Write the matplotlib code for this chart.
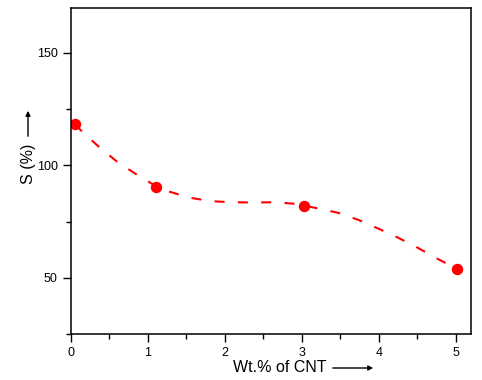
import numpy as np
import matplotlib.pyplot as plt
from matplotlib.ticker import MultipleLocator

plt.rcParams['font.family'] = ['Liberation Sans', 'DejaVu Sans']

# measured points
wt = [0.05, 1.11, 3.02, 5.01]
s_val = [118.3, 90.6, 82.1, 54.0]

# smooth dashed guide line
curve_x = [0.05, 0.17, 0.385, 0.60, 0.84, 1.11, 1.26, 1.53, 1.81, 2.09, 2.38,
           2.65, 2.91, 3.02, 3.19, 3.47, 3.73, 3.99, 4.25, 4.49, 4.74, 5.01]
curve_y = [118.3, 114.1, 107.6, 101.6, 96.2, 90.6, 88.5, 85.7, 84.1, 83.6, 83.5,
           83.6, 82.9, 82.1, 81.0, 78.9, 75.8, 71.9, 67.8, 63.6, 58.8, 54.0]

W, H = 482, 380
fig = plt.figure(figsize=(W / 100, H / 100), dpi=100)
ax = fig.add_axes([71 / W, 1 - 334 / H, 400 / W, 326 / H])

ln, = ax.plot(curve_x, curve_y, color='red', lw=1.5, ls='--')
ln.set_dashes((4.8, 6.4))
ax.plot(wt, s_val, 'o', color='red', ms=7.2, mec='red')

ax.set_xlim(0, 5.195)
ax.set_ylim(25, 170)
ax.xaxis.set_major_locator(MultipleLocator(1))
ax.xaxis.set_minor_locator(MultipleLocator(0.5))
ax.yaxis.set_major_locator(MultipleLocator(50))
ax.yaxis.set_minor_locator(MultipleLocator(25))
ax.tick_params(which='both', direction='out', labelsize=9, width=1)
ax.tick_params(which='major', length=6)
ax.tick_params(which='minor', length=3.5)
ax.tick_params(axis='x', pad=3)
for sp in ax.spines.values():
    sp.set_linewidth(1.1)

def fx(px):
    return px / W

def fy(py):
    return 1 - py / H

# axis labels with arrows
fig.text(fx(280), fy(368), 'Wt.% of CNT', fontsize=11.5, ha='center', va='center')
ax.annotate('', xy=(fx(376), fy(368)), xytext=(fx(330), fy(368)),
            xycoords='figure fraction', textcoords='figure fraction',
            arrowprops=dict(arrowstyle='-|>', color='black', lw=1,
                            mutation_scale=7))
fig.text(fx(28), fy(164), 'S (%)', fontsize=11.5, ha='center', va='center',
         rotation=90)
ax.annotate('', xy=(fx(28), fy(108)), xytext=(fx(28), fy(139)),
            xycoords='figure fraction', textcoords='figure fraction',
            arrowprops=dict(arrowstyle='-|>', color='black', lw=1,
                            mutation_scale=7))

plt.savefig('out.png', dpi=100)
